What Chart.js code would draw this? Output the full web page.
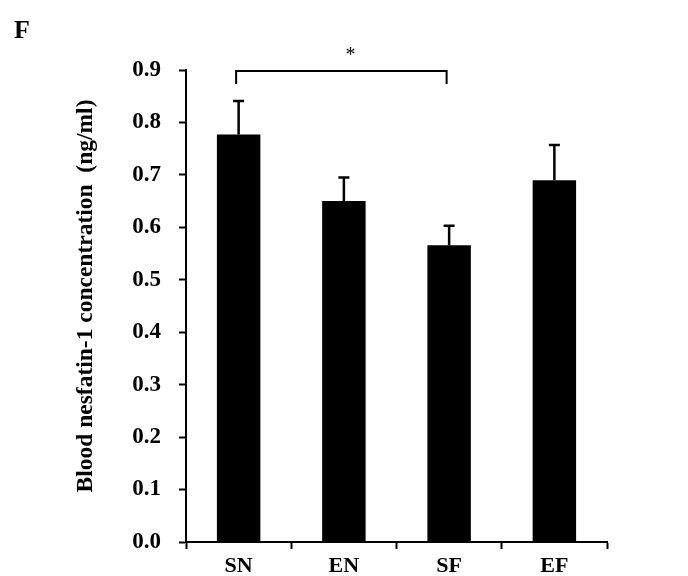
<!DOCTYPE html>
<html>
<head>
<meta charset="utf-8">
<script src="https://cdn.jsdelivr.net/npm/chart.js@4"></script>
<style>
  html, body { margin: 0; padding: 0; background: #fff; }
  #wrap { width: 688px; height: 576px; }
</style>
</head>
<body>
<div id="wrap"><canvas id="myChart" width="688" height="576"></canvas></div>
<script>
// data
var groups = ["SN", "EN", "SF", "EF"];
var means = [0.777, 0.650, 0.566, 0.690];
var errUp = [0.064, 0.045, 0.037, 0.067];
var yTicks = [0.0, 0.1, 0.2, 0.3, 0.4, 0.5, 0.6, 0.7, 0.8, 0.9];
var sigPair = [0, 2]; // SN vs SF, marked *

var serif = "'Liberation Serif', 'Times New Roman', serif";

// error bars, bracket and the extra texts
var extras = {
  id: "extras",
  afterDatasetsDraw: function (chart) {
    var ctx = chart.ctx;
    var x = chart.scales.x, y = chart.scales.y;
    ctx.save();
    ctx.strokeStyle = "#000";
    ctx.lineWidth = 2.5;
    for (var i = 0; i < means.length; i++) {
      var cx = x.getPixelForValue(i);
      var top = y.getPixelForValue(means[i]);
      var eTop = y.getPixelForValue(means[i] + errUp[i]);
      ctx.beginPath();
      ctx.moveTo(cx, top);
      ctx.lineTo(cx, eTop);
      ctx.moveTo(cx - 5.5, eTop);
      ctx.lineTo(cx + 5.5, eTop);
      ctx.stroke();
    }
    // significance bracket
    var x1 = x.getPixelForValue(sigPair[0]) - 2.5;
    var x2 = x.getPixelForValue(sigPair[1]) - 2.5;
    var by = y.getPixelForValue(0.898);
    ctx.lineWidth = 2;
    ctx.beginPath();
    ctx.moveTo(x1, by + 13);
    ctx.lineTo(x1, by);
    ctx.lineTo(x2, by);
    ctx.lineTo(x2, by + 13);
    ctx.stroke();
    ctx.fillStyle = "#000";
    ctx.textAlign = "center";
    ctx.textBaseline = "alphabetic";
    ctx.font = "20px " + serif;
    ctx.fillText("*", (x1 + x2) / 2 + 9, 61);

    // panel letter
    ctx.textAlign = "left";
    ctx.font = "bold 26px " + serif;
    ctx.fillText("F", 14, 38);

    // y axis title
    ctx.translate(92, 296);
    ctx.rotate(-Math.PI / 2);
    ctx.textAlign = "center";
    ctx.textBaseline = "alphabetic";
    ctx.font = "bold 23.5px " + serif;
    ctx.fillText("Blood nesfatin-1 concentration  (ng/ml)", 0, 0);
    ctx.restore();
  }
};

window.onload = function () {
  var ctx = document.getElementById("myChart").getContext("2d");

  var myChart = new Chart(ctx, {
    type: "bar",
    data: {
      labels: groups,
      datasets: [
        {
          data: means,
          backgroundColor: "#000",
          borderWidth: 0,
          barPercentage: 0.413,
          categoryPercentage: 1.0,
        },
      ],
    },
    options: {
      responsive: false,
      animation: false,
      layout: { padding: { left: 0, right: 81, top: 70, bottom: 0 } },
      plugins: {
        legend: { display: false },
        tooltip: { enabled: false },
      },
      scales: {
        x: {
          offset: true,
          grid: {
            offset: true,
            drawOnChartArea: false,
            drawTicks: true,
            tickLength: 7,
            tickWidth: 2,
            tickColor: "#000",
          },
          border: { color: "#000", width: 2 },
          ticks: {
            color: "#000",
            padding: 4,
            font: { family: serif, size: 22, weight: "bold" },
          },
          afterFit: function (scale) { scale.height = 34; },
        },
        y: {
          min: 0,
          max: 0.9,
          afterBuildTicks: function (scale) {
            scale.ticks = yTicks.map(function (v) { return { value: v }; });
          },
          grid: {
            drawOnChartArea: false,
            drawTicks: true,
            tickLength: 7,
            tickWidth: 2,
            tickColor: "#000",
          },
          border: { color: "#000", width: 2 },
          ticks: {
            color: "#000",
            padding: 18,
            font: { family: serif, size: 23, weight: "bold" },
            callback: function (v) { return Number(v).toFixed(1); },
          },
          afterFit: function (scale) { scale.width = 186; },
        },
      },
    },
    plugins: [extras],
  });
};
</script>
</body>
</html>
